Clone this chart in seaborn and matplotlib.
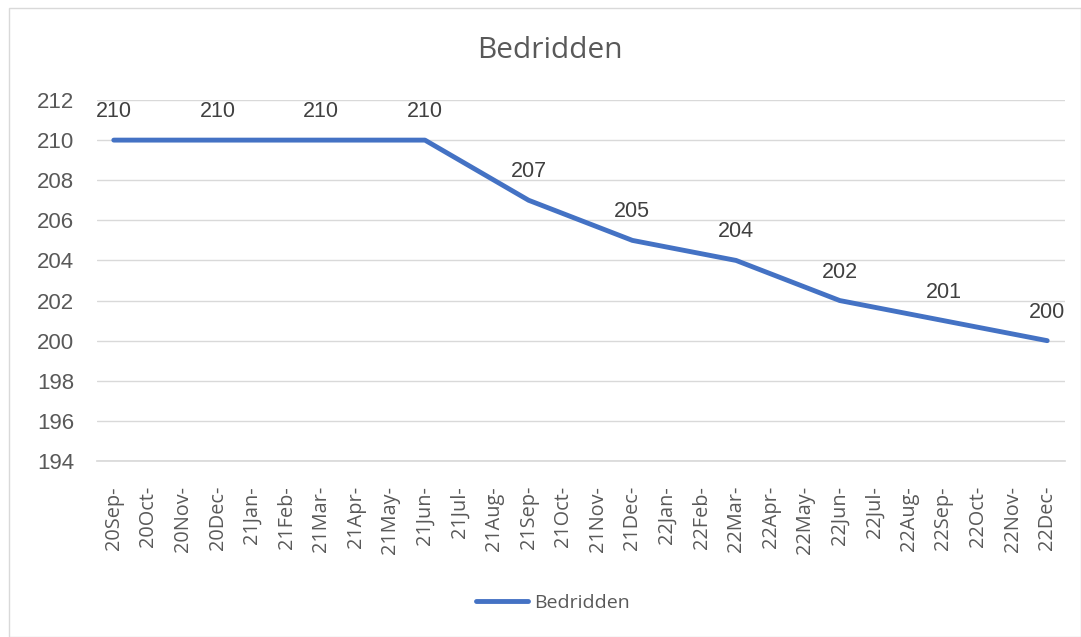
import matplotlib
matplotlib.use("Agg")
import matplotlib.pyplot as plt
import seaborn as sns
import pandas as pd
import numpy as np
from matplotlib.lines import Line2D

months = ["20Sep-", "20Oct-", "20Nov-", "20Dec-", "21Jan-", "21Feb-", "21Mar-",
          "21Apr-", "21May-", "21Jun-", "21Jul-", "21Aug-", "21Sep-", "21Oct-",
          "21Nov-", "21Dec-", "22Jan-", "22Feb-", "22Mar-", "22Apr-", "22May-",
          "22Jun-", "22Jul-", "22Aug-", "22Sep-", "22Oct-", "22Nov-", "22Dec-"]
point_months = ["20Sep-", "20Dec-", "21Mar-", "21Jun-", "21Sep-", "21Dec-",
                "22Mar-", "22Jun-", "22Sep-", "22Dec-"]
values = [210, 210, 210, 210, 207, 205, 204, 202, 201, 200]
y_ticks = [194, 196, 198, 200, 202, 204, 206, 208, 210, 212]

sns.set_theme(style="white")
plt.rcParams['font.family'] = ['Liberation Sans', 'DejaVu Sans']

df = pd.DataFrame({"month": point_months, "value": values})
df["pos"] = [months.index(m) for m in point_months]
df["series"] = "Bedridden"

fig = plt.figure(figsize=(10.81, 6.37), dpi=100)
ax = fig.add_axes([96.5 / 1081, 1 - 461 / 637, (1064.5 - 96.5) / 1081, (461 - 100) / 637])

color = "#4472C4"
sns.lineplot(data=df, x="pos", y="value", hue="series", palette=[color],
             linewidth=3.5, ax=ax, legend=False, solid_capstyle="round")

for p, v in zip(df["pos"], df["value"]):
    ax.annotate(str(v), (p, v), xytext=(0, 13), textcoords="offset points",
                ha="center", va="bottom", fontsize=15.5, color="#404040")

ax.set_xlim(-0.5, len(months) - 0.5)
ax.set_ylim(194, 212)
ax.set_yticks(y_ticks)
ax.set_yticklabels([str(t) for t in y_ticks], fontsize=16, color="#595959")
ax.set_xticks(range(len(months)))
ax.set_xticklabels(months, rotation=90, fontsize=14.3, color="#595959",
                   family=['Open Sans', 'DejaVu Sans'])
ax.tick_params(axis="x", length=0, pad=18)
ax.tick_params(axis="y", length=0, pad=16)
ax.grid(axis="y", color="#D9D9D9", linewidth=1)
ax.set_axisbelow(True)
for s in ["top", "right", "left"]:
    ax.spines[s].set_visible(False)
ax.spines["bottom"].set_color("#D9D9D9")
ax.set_xlabel("")
ax.set_ylabel("")

fig.text(550 / 1081, 1 - 50 / 637, "Bedridden", ha="center", va="center",
         fontsize=21.5, color="#595959", family=['Open Sans', 'DejaVu Sans'])

handle = Line2D([0], [0], color=color, linewidth=3.5, solid_capstyle="round")
fig.legend([handle], ["Bedridden"], loc="center", bbox_to_anchor=(553 / 1081, 1 - 603 / 637),
           frameon=False, prop={"family": ['Open Sans', 'DejaVu Sans'], "size": 14},
           labelcolor="#595959", handlelength=2.7, handletextpad=0.3)

fig.patches.append(plt.Rectangle((9 / 1081, 0), 1 - 9 / 1081 - 0.5 / 1081, 1 - 8 / 637,
                                 transform=fig.transFigure, fill=False,
                                 edgecolor="#D9D9D9", linewidth=1))

fig.savefig("out.png", dpi=100)
